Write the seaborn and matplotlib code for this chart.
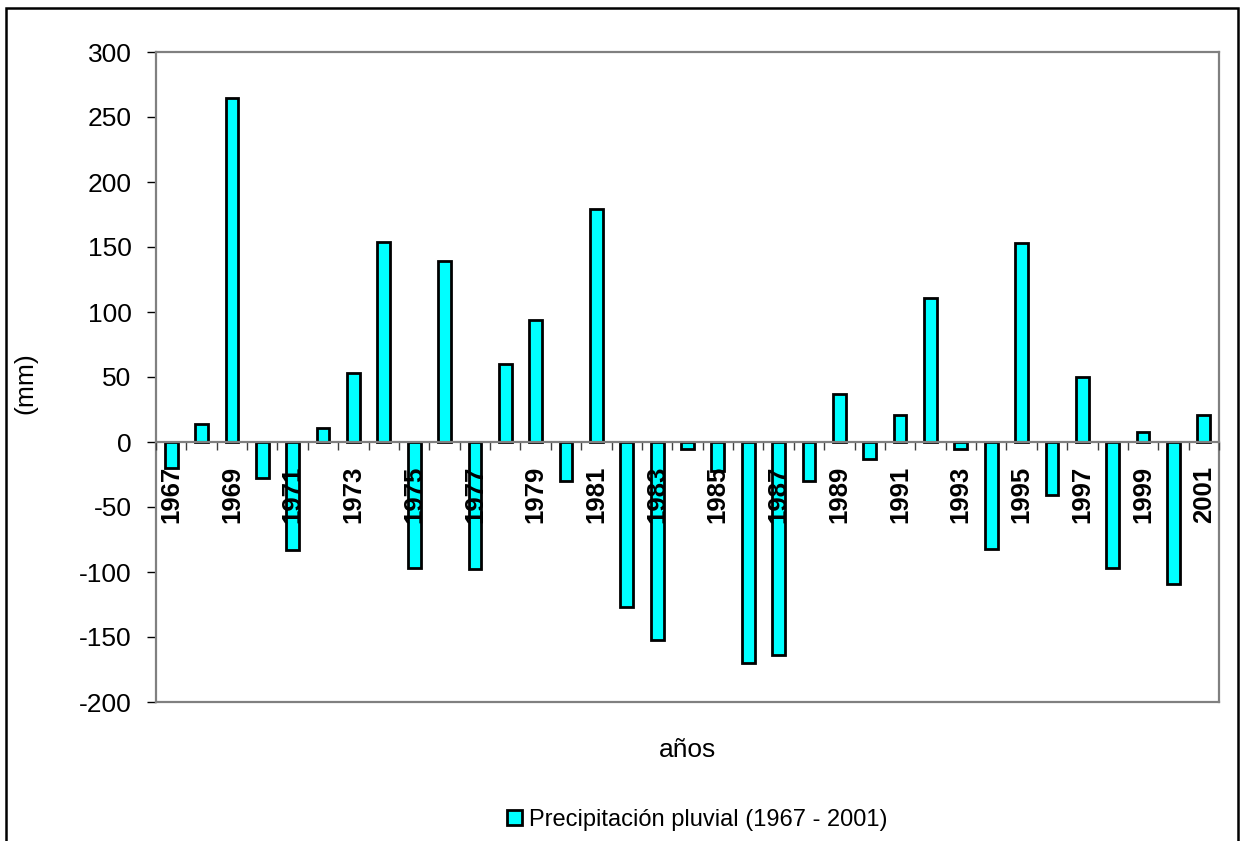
import matplotlib
matplotlib.use("Agg")
import matplotlib.pyplot as plt
import numpy as np
import pandas as pd
import seaborn as sns
from matplotlib.patches import Rectangle

# Annual precipitation anomaly (mm), 1967-2001
years = list(range(1967, 2002))
precip = [-20, 14, 265, -28, -83, 11, 53, 154, -97, 139,
          -98, 60, 94, -30, 179, -127, -152, -5, -22, -170,
          -164, -30, 37, -13, 21, 111, -5, -82, 153, -41,
          50, -97, 8, -109, 21]
tick_years = [str(y) for y in years[::2]]
series_label = "Precipitación pluvial (1967 - 2001)"
y_ticks = list(range(-200, 301, 50))

sns.set_style("white")
plt.rcParams["font.family"] = ["Liberation Sans", "DejaVu Sans"]
plt.rcParams["axes.unicode_minus"] = False
for key in ["text.color", "axes.labelcolor", "xtick.color", "ytick.color"]:
    plt.rcParams[key] = "black"

df = pd.DataFrame({"año": [str(y) for y in years], "mm": precip})

W, H = 1243, 841
fig = plt.figure(figsize=(W / 100, H / 100), dpi=100)
ax = fig.add_axes([156 / W, 1 - 702 / H, (1219 - 156) / W, (702 - 52) / H])

sns.barplot(data=df, x="año", y="mm", color="#00FFFF", saturation=1,
            edgecolor="black", linewidth=2.0, width=0.42, ax=ax,
            label=series_label, errorbar=None)
if ax.get_legend() is not None:
    ax.get_legend().remove()

ymin, ymax = y_ticks[0], y_ticks[-1]
ax.set_ylim(ymin, ymax)
ax.set_xlim(-0.5, len(years) - 0.5)
ax.set_yticks(y_ticks)
ax.tick_params(axis="y", left=True, length=6.5, width=1, color="black",
               pad=11, labelsize=19, direction="out")
ax.tick_params(axis="x", bottom=False, labelbottom=False)
for side in ["left", "right", "top", "bottom"]:
    ax.spines[side].set_visible(True)
    ax.spines[side].set_color("#808080")
    ax.spines[side].set_linewidth(1.6)

ax.set_ylabel("(mm)", fontsize=19)
ax.yaxis.set_label_coords(-0.112, 0.49)
ax.set_xlabel("años", fontsize=19)
ax.xaxis.set_label_coords(0.5, -0.055)

# Category axis drawn along the zero line, above the bars
zero_frac = (0 - ymin) / (ymax - ymin)
sec = ax.secondary_xaxis(zero_frac)
sec.set_zorder(5)
sec.spines["bottom"].set_color("#808080")
sec.spines["bottom"].set_linewidth(1.6)
sec.set_xticks(np.arange(0, len(years), 2), labels=tick_years)
sec.set_xticks(np.arange(-0.5, len(years), 1), minor=True)
sec.tick_params(axis="x", which="major", length=0, pad=17, labelsize=18.5,
                labelrotation=90, labelcolor="black")
sec.tick_params(axis="x", which="minor", length=6, width=1, color="#404040",
                direction="out")
for lbl in sec.get_xticklabels():
    lbl.set_fontweight("bold")

handles, labels = ax.get_legend_handles_labels()
fig.legend(handles, labels, loc="center", bbox_to_anchor=(0.561, 0.025),
           frameon=False, fontsize=17, handlelength=0.6, handleheight=0.6,
           handletextpad=0.3)

fig.add_artist(Rectangle((6 / W, -0.05), (1238 - 6) / W, 1 - 8 / H + 0.05,
                         transform=fig.transFigure, fill=False,
                         edgecolor="black", linewidth=1.8))

fig.savefig("out.png", dpi=100)
